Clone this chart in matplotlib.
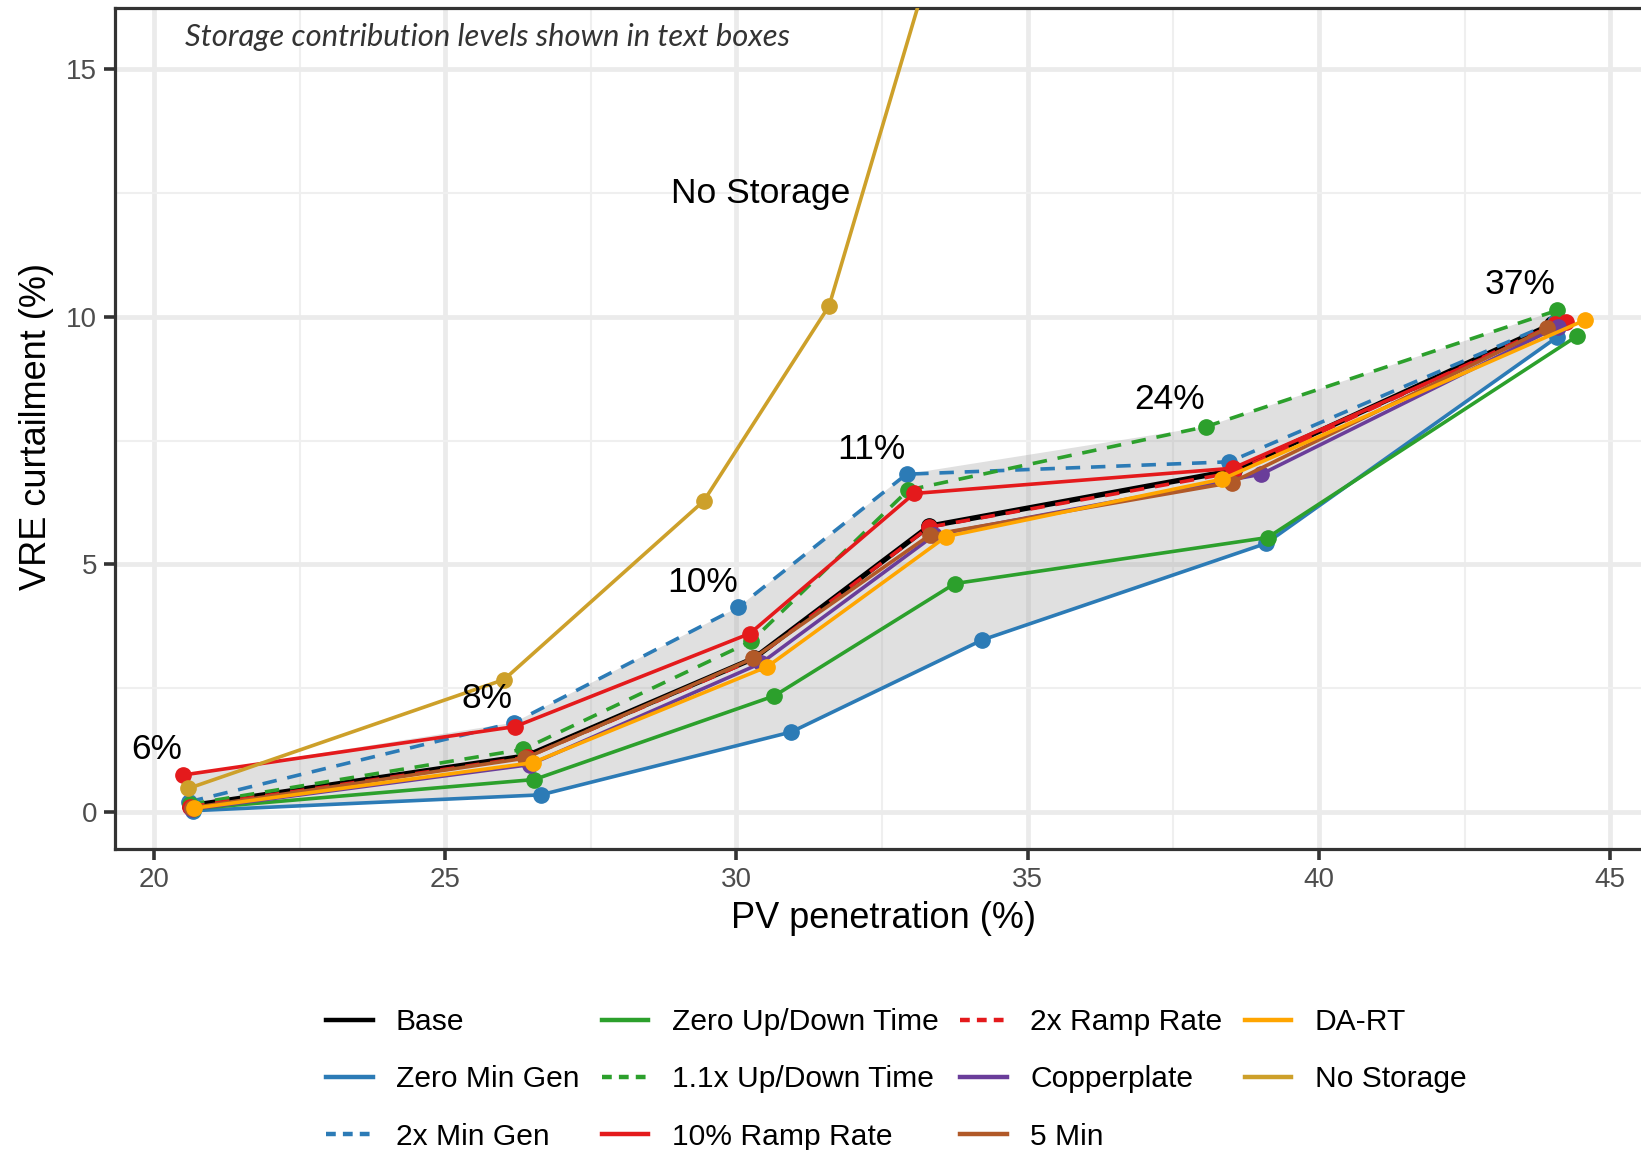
import numpy as np
import matplotlib
matplotlib.use("Agg")
import matplotlib.pyplot as plt
from matplotlib.lines import Line2D

plt.rcParams['font.family'] = ['Liberation Sans', 'DejaVu Sans']

# ---------------- data ----------------
series_names = ["Base", "Zero Min Gen", "2x Min Gen", "Zero Up/Down Time",
                "1.1x Up/Down Time", "10% Ramp Rate", "2x Ramp Rate",
                "Copperplate", "5 Min", "DA-RT", "No Storage"]

base_x = [20.62, 26.40, 30.30, 33.31, 38.55, 44.00]
base_y = [0.12, 1.13, 3.10, 5.77, 6.90, 9.85]
zmg_x = [20.67, 26.64, 30.94, 34.22, 39.09, 44.09]
zmg_y = [0.02, 0.34, 1.61, 3.47, 5.42, 9.59]
mg2_x = [20.60, 26.18, 30.03, 32.92, 38.46, 44.05]
mg2_y = [0.20, 1.80, 4.13, 6.82, 7.07, 9.90]
zud_x = [20.67, 26.53, 30.65, 33.75, 39.12, 44.43]
zud_y = [0.06, 0.65, 2.34, 4.61, 5.54, 9.61]
ud11_x = [20.62, 26.34, 30.25, 32.95, 38.06, 44.09]
ud11_y = [0.15, 1.26, 3.44, 6.50, 7.78, 10.13]
rr10_x = [20.49, 26.20, 30.23, 33.05, 38.52, 44.25]
rr10_y = [0.74, 1.72, 3.60, 6.43, 6.94, 9.90]
rr2_x = [20.62, 26.40, 30.30, 33.31, 38.52, 44.05]
rr2_y = [0.10, 1.10, 3.08, 5.75, 6.85, 9.85]
cop_x = [20.65, 26.45, 30.42, 33.40, 39.01, 44.10]
cop_y = [0.05, 0.95, 3.00, 5.59, 6.82, 9.80]
m5_x = [20.65, 26.37, 30.29, 33.32, 38.50, 43.92]
m5_y = [0.08, 1.08, 3.10, 5.59, 6.65, 9.77]
dart_x = [20.69, 26.50, 30.53, 33.60, 38.34, 44.56]
dart_y = [0.07, 0.99, 2.93, 5.56, 6.72, 9.93]
nos_x = [20.59, 26.01, 29.44, 31.59, 33.40]
nos_y = [0.47, 2.67, 6.28, 10.22, 17.40]

storage_labels = ["6%", "8%", "10%", "11%", "24%", "37%"]
label_x = [20.04, 25.72, 29.42, 32.31, 37.43, 43.45]
label_y = [1.25, 2.28, 4.64, 7.31, 8.32, 10.65]

# ---------------- styles ----------------
colors = {
    "Base": "#000000",
    "Zero Min Gen": "#2C7BB6",
    "2x Min Gen": "#2C7BB6",
    "Zero Up/Down Time": "#2CA02C",
    "1.1x Up/Down Time": "#2CA02C",
    "10% Ramp Rate": "#E41A1C",
    "2x Ramp Rate": "#E41A1C",
    "Copperplate": "#6A3D9A",
    "5 Min": "#B15928",
    "DA-RT": "#FFA500",
    "No Storage": "#CDA02A",
}
dashed = {"2x Min Gen", "1.1x Up/Down Time", "2x Ramp Rate"}

data = {
    "Base": (base_x, base_y),
    "Zero Min Gen": (zmg_x, zmg_y),
    "2x Min Gen": (mg2_x, mg2_y),
    "Zero Up/Down Time": (zud_x, zud_y),
    "1.1x Up/Down Time": (ud11_x, ud11_y),
    "10% Ramp Rate": (rr10_x, rr10_y),
    "2x Ramp Rate": (rr2_x, rr2_y),
    "Copperplate": (cop_x, cop_y),
    "5 Min": (m5_x, m5_y),
    "DA-RT": (dart_x, dart_y),
    "No Storage": (nos_x, nos_y),
}

W, H = 1641, 1150
fig = plt.figure(figsize=(W / 100, H / 100), dpi=100)
ax = fig.add_axes([115 / W, 1 - 849 / H, 1 - 115 / W, (849 - 8) / H])

ax.set_xlim(19.33, 45.53)
ax.set_ylim(-0.754, 16.24)

# grid
ax.set_xticks([20, 25, 30, 35, 40, 45])
ax.set_xticks([22.5, 27.5, 32.5, 37.5, 42.5], minor=True)
ax.set_yticks([0, 5, 10, 15])
ax.set_yticks([2.5, 7.5, 12.5], minor=True)
ax.grid(which='major', color='#EBEBEB', lw=3.4)
ax.grid(which='minor', color='#EFEFEF', lw=1.5)
ax.set_axisbelow(True)

# ribbon (range of storage sensitivities)
sens = [n for n in series_names if n != "No Storage"]
X = np.array([data[n][0] for n in sens])
Y = np.array([data[n][1] for n in sens])
imax = Y.argmax(axis=0)
imin = Y.argmin(axis=0)
cols = np.arange(Y.shape[1])
up_x, up_y = X[imax, cols], Y[imax, cols]
lo_x, lo_y = X[imin, cols], Y[imin, cols]
poly_x = np.concatenate([up_x, lo_x[::-1]])
poly_y = np.concatenate([up_y, lo_y[::-1]])
ax.fill(poly_x, poly_y, color='#999999', alpha=0.3, lw=0, zorder=1)

# lines and points
handles = []
for i, n in enumerate(series_names):
    xs, ys = data[n]
    c = colors[n]
    lw = 3.8 if n == "Base" else 2.6
    ls = (0, (4.0, 3.0)) if n in dashed else '-'
    ax.plot(xs, ys, color=c, lw=lw, ls=ls, zorder=3 + i * 0.1,
            solid_capstyle='butt', dash_capstyle='butt')
    ax.plot(xs, ys, 'o', color=c, ms=11, zorder=3.05 + i * 0.1, ls='none')
    handles.append(Line2D([0], [0], color=c, lw=3.2,
                          ls=((0, (2.2, 1.6)) if n in dashed else '-'), label=n))

# annotations
for t, x, y in zip(storage_labels, label_x, label_y):
    ax.text(x, y, t, fontsize=25.5, ha='center', va='center', color='black', zorder=10)
ax.text(30.42, 12.49, "No Storage", fontsize=25.5, ha='center', va='center',
        color='black', zorder=10)
ax.text(20.53, 15.66, "Storage contribution levels shown in text boxes",
        fontsize=22.3, style='italic', family=['Lato', 'DejaVu Sans'],
        ha='left', va='center', color='#333333', zorder=10)

# spines & ticks
for s in ['left', 'bottom', 'top']:
    ax.spines[s].set_color('#333333')
    ax.spines[s].set_linewidth(2.3)
ax.spines['right'].set_visible(False)
ax.tick_params(which='major', length=8, width=2.6, color='#333333',
               labelsize=20, labelcolor='#4D4D4D', pad=5)
ax.tick_params(which='minor', length=0)

fig.text(884 / W, 1 - 918 / H, "PV penetration (%)", fontsize=26,
         ha='center', va='center')
fig.text(36.6 / W, 1 - 427 / H, "VRE curtailment (%)", fontsize=26,
         ha='center', va='center', rotation=90)

leg = fig.legend(handles=handles, ncol=4, loc='upper left',
                 bbox_to_anchor=(326 / W, 1 - 1008 / H), frameon=False,
                 fontsize=21.6, handlelength=1.55, handletextpad=0.78,
                 columnspacing=0.74, labelspacing=0.98, borderpad=0,
                 borderaxespad=0)

fig.savefig("out.png", dpi=100, facecolor='white')
